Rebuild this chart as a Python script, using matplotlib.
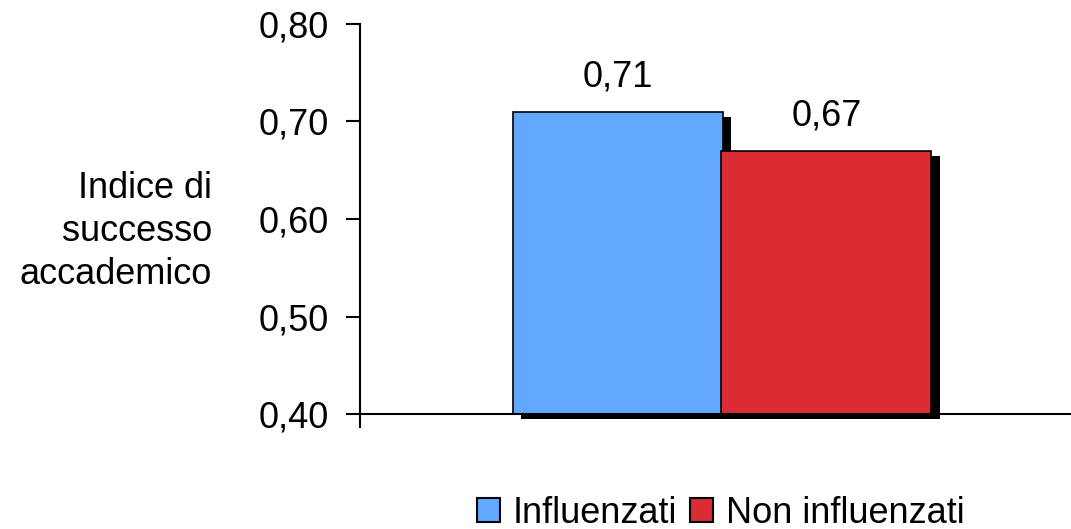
import matplotlib
matplotlib.use("Agg")
import matplotlib.pyplot as plt
import matplotlib.patheffects as pe
from matplotlib.patches import Patch

plt.rcParams['font.family'] = ['Liberation Sans', 'DejaVu Sans']

categories = ["Influenzati", "Non influenzati"]
values = [0.71, 0.67]
colors = ["#62A8FF", "#DC2C33"]
yticks = [0.40, 0.50, 0.60, 0.70, 0.80]

FS = 26

fig = plt.figure(figsize=(10.71, 5.29), dpi=100)
ax = fig.add_axes([0.336, 0.217, 0.664, 0.738])

# black drop shadow behind each bar
shadow = [pe.SimplePatchShadow(offset=(6, -3.6), shadow_rgbFace='black', alpha=1.0), pe.Normal()]

xpos = [0.363, 0.656]
for x, v, c in zip(xpos, values, colors):
    b = ax.bar(x, v - 0.40, bottom=0.40, width=0.295, color=c, edgecolor='black',
               linewidth=1.2, zorder=2, clip_on=False)
    b[0].set_path_effects(shadow)
    ax.text(x, v + 0.026, f"{v:.2f}".replace('.', ','), ha='center', va='baseline', fontsize=FS)

ax.set_xlim(0, 1)
ax.set_ylim(0.40, 0.80)
ax.set_yticks(yticks)
ax.set_yticklabels([f"{t:.2f}".replace('.', ',') for t in yticks], fontsize=FS)
ax.set_xticks([0])
ax.set_xticklabels([""])
ax.tick_params(axis='both', direction='out', length=10, width=1.5)
ax.tick_params(axis='y', pad=12)

for s in ['top', 'right']:
    ax.spines[s].set_visible(False)
for s in ['left', 'bottom']:
    ax.spines[s].set_linewidth(1.5)
ax.spines['bottom'].set_zorder(3)

fig.text(0.198, 0.563, "Indice di\nsuccesso\naccademico", ha='right', va='center',
         fontsize=FS, linespacing=1.3)

handles = [Patch(facecolor=c, edgecolor='black', linewidth=1.5) for c in colors]
fig.legend(handles, categories, loc='center', bbox_to_anchor=(0.673, 0.03), ncol=2,
           frameon=False, fontsize=FS, handlelength=0.65, handleheight=0.65,
           handletextpad=0.35, columnspacing=0.35, borderaxespad=0)

fig.savefig("out.png", dpi=100)
